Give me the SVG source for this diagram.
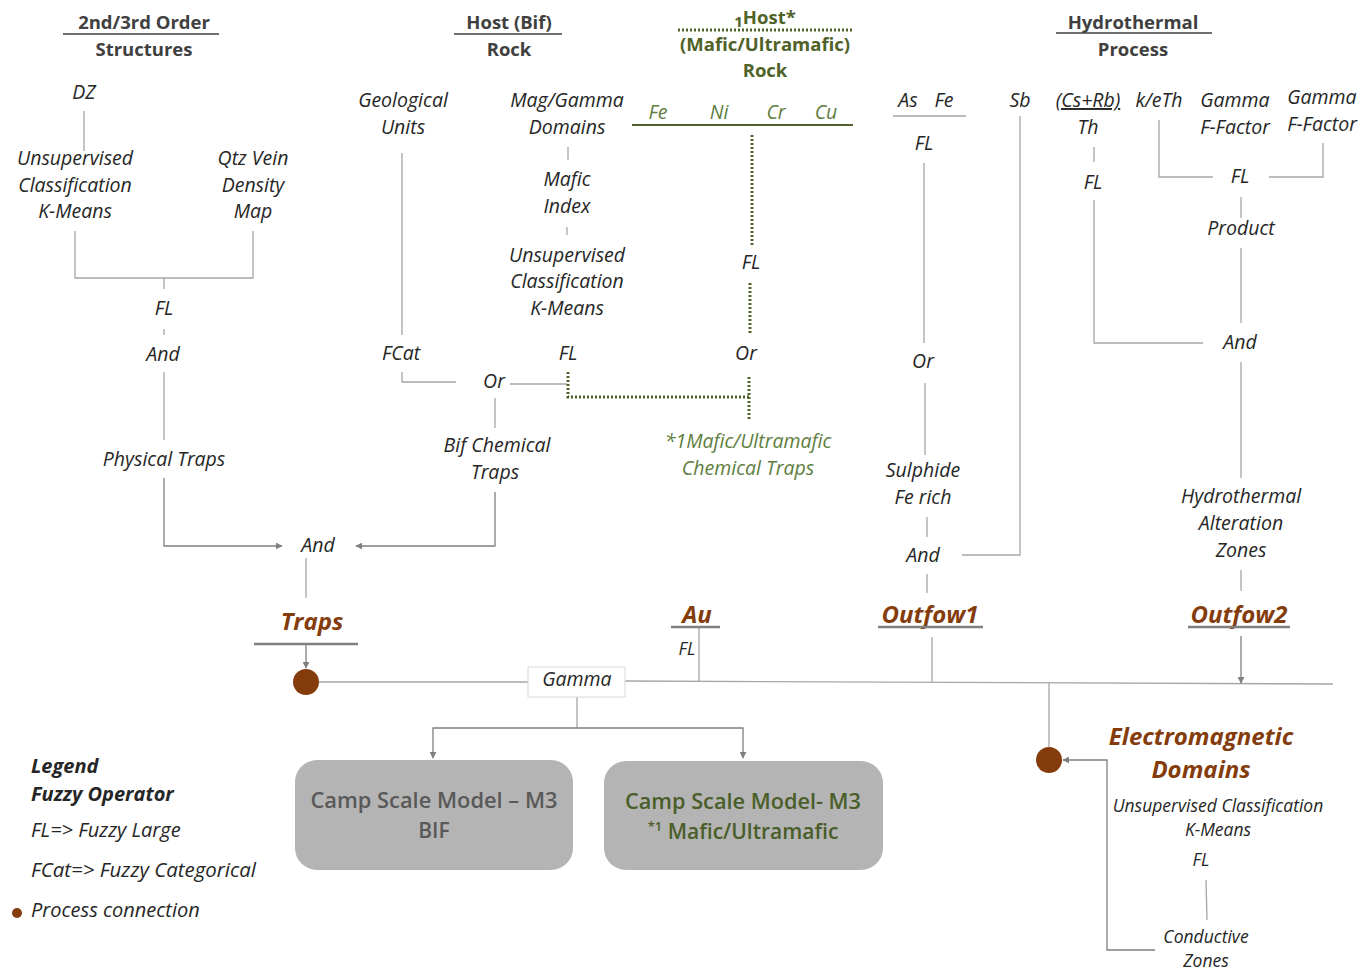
<svg xmlns="http://www.w3.org/2000/svg" width="1365" height="970" viewBox="0 0 1365 970">
<defs>
<style>
.t{font-family:"Open Sans","Liberation Sans",sans-serif;font-style:italic;font-size:19.5px;fill:#262626;text-anchor:middle}
.s{font-size:17.5px}
.h{font-family:"Open Sans","Liberation Sans",sans-serif;font-weight:bold;font-size:18.5px;fill:#404040;text-anchor:middle}
.hg{fill:#4F6228}
.gi{fill:#5E7D3E}
.br{font-family:"Open Sans","Liberation Sans",sans-serif;font-style:italic;font-weight:bold;font-size:24px;fill:#843C0C;text-anchor:middle}
.ln{stroke:#A6A6A6;stroke-width:1.3;fill:none}
.ar{stroke:#7F7F7F;stroke-width:1.3;fill:none;marker-end:url(#ah)}
.ul{stroke:#404040;stroke-width:1.5}
.bul{stroke:#808080;stroke-width:2.5}
.dt{stroke:#4F6228;stroke-width:3;stroke-dasharray:2 2;fill:none}
.pc{fill:#843C0C}
.box{fill:#B4B4B4}
.bt{font-family:"Open Sans","Liberation Sans",sans-serif;font-weight:600;font-size:21px;text-anchor:middle}
.lg{font-family:"Open Sans","Liberation Sans",sans-serif;font-style:italic;font-size:20px;fill:#262626}
</style>
<marker id="ah" viewBox="0 0 10 10" refX="9" refY="5" markerWidth="7" markerHeight="7" orient="auto" markerUnits="userSpaceOnUse">
<path d="M0,0 L10,5 L0,10 z" fill="#7F7F7F"/>
</marker>
</defs>
<rect width="1365" height="970" fill="#FFFFFF"/>

<g id="connectors">
<line class="ln" x1="84" y1="111" x2="84" y2="151"/>
<polyline class="ln" points="75,231 75,278 253,278 253,231"/>
<line class="ln" x1="164" y1="278" x2="164" y2="289"/>
<line class="ln" x1="164" y1="329" x2="164" y2="335"/>
<line class="ln" x1="164" y1="372" x2="164" y2="440"/>
<polyline class="ar" points="164,478 164,546 282,546"/>
<polyline class="ar" points="495,492 495,546 356,546"/>
<line class="ln" x1="306" y1="558" x2="306" y2="598"/>
<line class="ar" x1="306" y1="644" x2="306" y2="668"/>
<line class="ln" x1="402" y1="153" x2="402" y2="335"/>
<polyline class="ln" points="402,372 402,382 456,382"/>
<line class="ln" x1="510" y1="384" x2="567" y2="384"/>
<line class="ln" x1="568" y1="147" x2="568" y2="160"/>
<line class="ln" x1="567" y1="227" x2="567" y2="235"/>
<line class="ln" x1="495" y1="398" x2="495" y2="428"/>
<polyline class="dt" points="568,372 568,397 750,397"/>
<line class="dt" x1="752" y1="135" x2="752" y2="245"/>
<line class="dt" x1="750" y1="283" x2="750" y2="335"/>
<line class="dt" x1="749" y1="377" x2="749" y2="420"/>
<line class="ln" x1="924" y1="163" x2="924" y2="343"/>
<line class="ln" x1="925" y1="383" x2="925" y2="455"/>
<line class="ln" x1="927" y1="517" x2="927" y2="537"/>
<line class="ln" x1="927" y1="574" x2="927" y2="593"/>
<polyline class="ln" points="1020,116 1020,555 962,555"/>
<line class="ln" x1="1094" y1="147" x2="1094" y2="162"/>
<polyline class="ln" points="1094,200 1094,343 1203,343"/>
<polyline class="ln" points="1159,120 1159,177 1213,177"/>
<polyline class="ln" points="1323,143 1323,177 1269,177"/>
<line class="ln" x1="1241" y1="197" x2="1241" y2="218"/>
<line class="ln" x1="1241" y1="248" x2="1241" y2="323"/>
<line class="ln" x1="1241" y1="362" x2="1241" y2="478"/>
<line class="ln" x1="1241" y1="570" x2="1241" y2="591"/>
<line class="ln" x1="319" y1="682" x2="528" y2="682"/>
<line class="ln" x1="625" y1="681" x2="1333" y2="684"/>
<line class="ln" x1="699" y1="627" x2="699" y2="681"/>
<line class="ln" x1="932" y1="637" x2="932" y2="682"/>
<line class="ar" x1="1241" y1="636" x2="1241" y2="683"/>
<line class="ln" x1="1049" y1="683" x2="1049" y2="747"/>
<polyline class="ar" points="1155,950 1107,950 1107,760 1063,760"/>
<line class="ln" x1="1206" y1="880" x2="1207" y2="920"/>
<polyline class="ln" points="577,697 577,728"/>
<polyline class="ar" points="577,728 433,728 433,758"/>
<polyline class="ar" points="577,728 743,728 743,758"/>
</g>

<g id="hdr-structures">
<text class="h" x="144" y="29">2nd/3rd Order</text>
<line class="ul" x1="63" y1="34" x2="219" y2="34"/>
<text class="h" x="144" y="56">Structures</text>
</g>
<g id="hdr-host-bif">
<text class="h" x="509" y="29">Host (Bif)</text>
<line class="ul" x1="454" y1="34" x2="562" y2="34"/>
<text class="h" x="509" y="56">Rock</text>
</g>
<g id="hdr-host-mafic">
<text class="h hg" x="765" y="24"><tspan font-size="15px" dy="3">1</tspan><tspan dy="-3">Host*</tspan></text>
<line x1="678" y1="30" x2="852" y2="30" stroke="#4F6228" stroke-width="3" stroke-dasharray="2 2"/>
<text class="h hg" x="765" y="51">(Mafic/Ultramafic)</text>
<text class="h hg" x="765" y="77">Rock</text>
</g>
<g id="hdr-hydro">
<text class="h" x="1133" y="29">Hydrothermal</text>
<line class="ul" x1="1056" y1="33" x2="1212" y2="33"/>
<text class="h" x="1133" y="56">Process</text>
</g>

<g id="n-dz"><text class="t" x="84" y="99">DZ</text></g>
<g id="n-uc1"><text class="t" x="75" y="165">Unsupervised</text><text class="t" x="75" y="192">Classification</text><text class="t" x="75" y="218">K-Means</text></g>
<g id="n-qtz"><text class="t" x="253" y="165">Qtz Vein</text><text class="t" x="253" y="192">Density</text><text class="t" x="253" y="218">Map</text></g>
<g id="n-fl1"><text class="t" x="164" y="315">FL</text></g>
<g id="n-and1"><text class="t" x="163" y="361">And</text></g>
<g id="n-phys"><text class="t" x="164" y="466">Physical Traps</text></g>
<g id="n-and2"><text class="t" x="318" y="552">And</text></g>
<g id="n-traps">
<text class="br" x="312" y="630">Traps</text>
<line class="bul" x1="254" y1="644" x2="358" y2="644"/>
</g>
<g id="n-pc1"><circle class="pc" cx="306" cy="682" r="13"/></g>

<g id="n-geo"><text class="t" x="403" y="107">Geological</text><text class="t" x="403" y="134">Units</text></g>
<g id="n-fcat"><text class="t" x="401" y="360">FCat</text></g>
<g id="n-or1"><text class="t" x="494" y="388">Or</text></g>
<g id="n-mag"><text class="t" x="567" y="107">Mag/Gamma</text><text class="t" x="567" y="134">Domains</text></g>
<g id="n-mafic"><text class="t" x="567" y="186">Mafic</text><text class="t" x="567" y="213">Index</text></g>
<g id="n-uc2"><text class="t" x="567" y="262">Unsupervised</text><text class="t" x="567" y="288">Classification</text><text class="t" x="567" y="315">K-Means</text></g>
<g id="n-fl2"><text class="t" x="568" y="360">FL</text></g>
<g id="n-bifct"><text class="t" x="497" y="452">Bif Chemical</text><text class="t" x="495" y="479">Traps</text></g>

<g id="n-elements">
<text class="t gi" x="658" y="119">Fe</text>
<text class="t gi" x="719" y="119">Ni</text>
<text class="t gi" x="776" y="119">Cr</text>
<text class="t gi" x="826" y="119">Cu</text>
<line x1="632" y1="125" x2="853" y2="125" stroke="#4F6228" stroke-width="2"/>
</g>
<g id="n-fl3"><text class="t" x="751" y="269">FL</text></g>
<g id="n-or2"><text class="t" x="746" y="360">Or</text></g>
<g id="n-mct"><text class="t gi" x="748" y="448">*1Mafic/Ultramafic</text><text class="t gi" x="748" y="475">Chemical Traps</text></g>

<g id="n-asfe">
<text class="t" x="908" y="107">As</text><text class="t" x="944" y="107">Fe</text>
<line class="ln" x1="893" y1="116" x2="966" y2="116"/>
</g>
<g id="n-fl4"><text class="t" x="924" y="150">FL</text></g>
<g id="n-or3"><text class="t" x="923" y="368">Or</text></g>
<g id="n-sulph"><text class="t" x="923" y="477">Sulphide</text><text class="t" x="923" y="504">Fe rich</text></g>
<g id="n-and3"><text class="t" x="923" y="562">And</text></g>
<g id="n-sb"><text class="t" x="1020" y="107">Sb</text></g>

<g id="n-csrb"><text class="t" x="1088" y="107" text-decoration="underline">(Cs+Rb)</text><text class="t" x="1088" y="134">Th</text></g>
<g id="n-keth"><text class="t" x="1159" y="107">k/eTh</text></g>
<g id="n-gff1"><text class="t" x="1235" y="107">Gamma</text><text class="t" x="1235" y="134">F-Factor</text></g>
<g id="n-gff2"><text class="t" x="1322" y="104">Gamma</text><text class="t" x="1322" y="131">F-Factor</text></g>
<g id="n-fl5"><text class="t" x="1093" y="189">FL</text></g>
<g id="n-fl6"><text class="t" x="1240" y="183">FL</text></g>
<g id="n-prod"><text class="t" x="1241" y="235">Product</text></g>
<g id="n-and4"><text class="t" x="1240" y="349">And</text></g>
<g id="n-haz"><text class="t" x="1241" y="503">Hydrothermal</text><text class="t" x="1241" y="530">Alteration</text><text class="t" x="1241" y="557">Zones</text></g>

<g id="n-au">
<text class="br" x="697" y="623">Au</text>
<line class="bul" x1="671" y1="627" x2="720" y2="627"/>
<text class="t s" x="687" y="655">FL</text>
</g>
<g id="n-outflow1">
<text class="br" x="930" y="623">Outfow1</text>
<line class="bul" x1="878" y1="627" x2="983" y2="627"/>
</g>
<g id="n-outflow2">
<text class="br" x="1239" y="623">Outfow2</text>
<line class="bul" x1="1188" y1="627" x2="1290" y2="627"/>
</g>

<g id="n-gamma">
<rect x="528" y="667" width="97" height="30" fill="#FFFFFF" stroke="#DADADA" stroke-width="1"/>
<text class="t" x="577" y="686" font-size="13px">Gamma</text>
</g>

<g id="n-m3-bif">
<rect class="box" x="295" y="760" width="278" height="110" rx="22"/>
<text class="bt" x="434" y="808" fill="#595959" textLength="247" lengthAdjust="spacingAndGlyphs">Camp Scale Model – M3</text>
<text class="bt" x="434" y="838" fill="#595959">BIF</text>
</g>
<g id="n-m3-mafic">
<rect class="box" x="604" y="761" width="279" height="109" rx="22"/>
<text class="bt" x="743" y="809" fill="#4A5E2A" textLength="236" lengthAdjust="spacingAndGlyphs">Camp Scale Model- M3</text>
<text class="bt" x="743" y="839" fill="#4A5E2A"><tspan font-size="13px" dy="-8">*1</tspan><tspan dy="8"> Mafic/Ultramafic</tspan></text>
</g>

<g id="n-pc2"><circle class="pc" cx="1049" cy="760" r="13"/></g>
<g id="n-em">
<text class="br" x="1201" y="745" font-size="24.5px">Electromagnetic</text>
<text class="br" x="1201" y="778" font-size="24.5px">Domains</text>
<text class="t s" x="1218" y="812">Unsupervised Classification</text>
<text class="t s" x="1218" y="836">K-Means</text>
</g>
<g id="n-fl7"><text class="t s" x="1201" y="866">FL</text></g>
<g id="n-cond"><text class="t s" x="1206" y="943">Conductive</text><text class="t s" x="1206" y="967">Zones</text></g>

<g id="legend">
<text class="lg" x="31" y="773" font-weight="bold" font-size="23px" fill="#000000">Legend</text>
<text class="lg" x="31" y="801" font-weight="bold" font-size="19px" fill="#000000">Fuzzy Operator</text>
<text class="lg" x="31" y="837">FL=&gt; Fuzzy Large</text>
<text class="lg" x="31" y="877" textLength="225" lengthAdjust="spacingAndGlyphs">FCat=&gt; Fuzzy Categorical</text>
<circle class="pc" cx="17" cy="913" r="5"/>
<text class="lg" x="31" y="917">Process connection</text>
</g>
</svg>
